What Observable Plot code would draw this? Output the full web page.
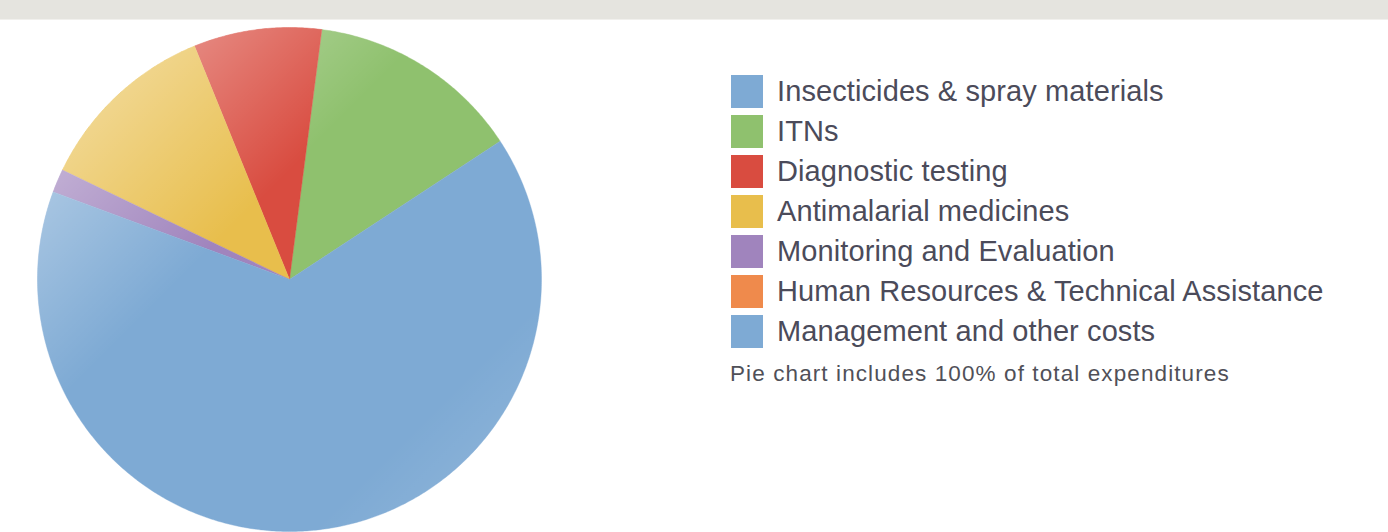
<!DOCTYPE html>
<html>
<head>
<meta charset="utf-8">
<script src="https://cdn.jsdelivr.net/npm/d3@7"></script>
<script src="https://cdn.jsdelivr.net/npm/@observablehq/plot@0.6"></script>
<style>
  html, body { margin: 0; padding: 0; background: #ffffff; }
  #page { position: relative; width: 1388px; height: 532px; overflow: hidden; background: #fff; font-family: "Liberation Sans", Arial, sans-serif; }
  #band { position: absolute; left: 0; top: 0; width: 1388px; height: 19px; background: #e5e4df; border-bottom: 1px solid #f1f0ed; }
  #chart { position: absolute; left: 0; top: 20px; }
  #legend { position: absolute; left: 731px; top: 75px; }
  .row { display: flex; align-items: center; height: 33px; margin-bottom: 7px; }
  .sw { width: 32px; height: 33px; flex: none; }
  .lab { margin-left: 14px; font-size: 29px; color: #4b4b5a; white-space: nowrap; letter-spacing: 0.1px; }
  #caption { position: absolute; left: 730px; top: 361px; font-size: 22.5px; color: #505058; white-space: nowrap; letter-spacing: 1.1px; }
</style>
</head>
<body>
<div id="page">
  <div id="band"></div>
  <div id="chart"></div>
  <div id="legend"></div>
  <div id="caption">Pie chart includes 100% of total expenditures</div>
</div>
<script>
// ---- data ----
const categories = [
  "Insecticides & spray materials",
  "ITNs",
  "Diagnostic testing",
  "Antimalarial medicines",
  "Monitoring and Evaluation",
  "Human Resources & Technical Assistance",
  "Management and other costs"
];
const shares = [0, 13.7, 8.2, 11.7, 1.5, 0, 64.9];
const colors = ["#7eaad4", "#8fc16e", "#d94c40", "#e8be4c", "#a084bd", "#ef8a4c", "#7eaad4"];

// ---- pie geometry (counterclockwise from start angle, degrees clockwise from top) ----
const startAngle = 56.7;
const total = d3.sum(shares);
const points = [];
let acc = startAngle;
categories.forEach((name, i) => {
  const span = shares[i] / total * 360;
  if (span <= 0) return;
  const a0 = acc, a1 = acc - span;
  points.push({name, x: 0, y: 0});
  const n = Math.max(2, Math.ceil(span / 0.5));
  for (let k = 0; k <= n; k++) {
    const t = (a0 + (a1 - a0) * k / n) * Math.PI / 180;
    points.push({name, x: Math.sin(t), y: Math.cos(t)});
  }
  points.push({name, x: 0, y: 0});
  acc = a1;
});
const disc = d3.range(0, 721).map(k => {
  const t = k / 2 * Math.PI / 180;
  return {x: Math.sin(t), y: Math.cos(t)};
});

const defs = () => {
  const svgNS = "http://www.w3.org/2000/svg";
  const d = document.createElementNS(svgNS, "defs");
  d.innerHTML = `
    <linearGradient id="pieShade" x1="0" y1="0.1" x2="0.9" y2="1">
      <stop offset="0" stop-color="#fff" stop-opacity="0.5"/>
      <stop offset="0.38" stop-color="#fff" stop-opacity="0"/>
      <stop offset="0.8" stop-color="#fff" stop-opacity="0"/>
      <stop offset="1" stop-color="#fff" stop-opacity="0.14"/>
    </linearGradient>`;
  return d;
};

const chart = Plot.plot({
  width: 580,
  height: 512,
  marginLeft: 37,
  marginRight: 39,
  marginTop: 7,
  marginBottom: 1,
  x: {domain: [-1, 1], axis: null},
  y: {domain: [-1, 1], axis: null},
  color: {domain: categories, range: colors},
  style: {background: "transparent", overflow: "visible"},
  marks: [
    defs,
    Plot.line(points, {x: "x", y: "y", z: "name", fill: "name", stroke: "name", strokeWidth: 0.4, curve: "linear"}),
    Plot.line(disc, {x: "x", y: "y", fill: "url(#pieShade)", stroke: "none", curve: "linear"})
  ]
});
document.getElementById("chart").appendChild(chart);

// ---- legend ----
const legend = document.getElementById("legend");
categories.forEach((name, i) => {
  const row = document.createElement("div");
  row.className = "row";
  const sw = document.createElement("div");
  sw.className = "sw";
  sw.style.background = chart.scale("color").apply(name);
  const lab = document.createElement("div");
  lab.className = "lab";
  lab.textContent = name;
  row.appendChild(sw);
  row.appendChild(lab);
  legend.appendChild(row);
});
</script>
</body>
</html>
